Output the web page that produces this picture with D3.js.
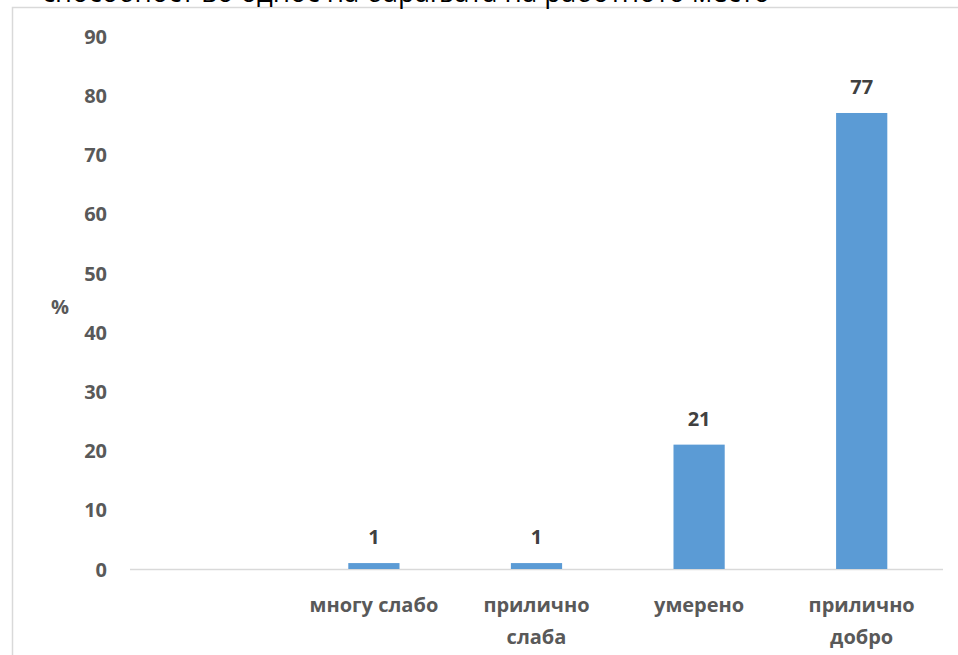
<!DOCTYPE html>
<html>
<head>
<meta charset="utf-8">
<script src="https://cdn.jsdelivr.net/npm/d3@7"></script>
<style>
  html, body { margin: 0; padding: 0; background: #ffffff; }
  svg { display: block; }
  text { font-family: "Open Sans", Lato, "DejaVu Sans", sans-serif; }
</style>
</head>
<body>
<script>
// Rating of work ability with respect to job demands (share of respondents, %)
const categories = ["", "многу слабо", "прилично слаба", "умерено", "прилично добро"];
const values = [null, 1, 1, 21, 77];
const yTicks = [0, 10, 20, 30, 40, 50, 60, 70, 80, 90];
const titleText = "способност во однос на барањата на работното место";
const yAxisTitle = "%";

// Category labels are wrapped onto two lines where needed
const labelLines = {
  "многу слабо": ["многу слабо"],
  "прилично слаба": ["прилично", "слаба"],
  "умерено": ["умерено"],
  "прилично добро": ["прилично", "добро"]
};

const W = 958, H = 655;
const plot = { left: 130, right: 943, top: 36, bottom: 569 };
const labelFont = 20;

const svg = d3.select("body").append("svg")
  .attr("width", W).attr("height", H);

// Chart frame (only its top and left edges fall inside the view)
svg.append("rect")
  .attr("x", 12.5).attr("y", 7.5)
  .attr("width", W + 20).attr("height", H + 20)
  .attr("fill", "#ffffff")
  .attr("stroke", "#d9d9d9").attr("stroke-width", 1.5);

// Title, mostly clipped above the top edge
svg.append("text")
  .attr("x", 42).attr("y", 2)
  .attr("font-size", 28)
  .attr("fill", "#000000")
  .attr("textLength", 728)
  .attr("lengthAdjust", "spacingAndGlyphs")
  .text(titleText);

const x = d3.scaleBand()
  .domain(categories)
  .range([plot.left, plot.right])
  .paddingInner(0.685)
  .paddingOuter(0.3425);

const y = d3.scaleLinear()
  .domain([0, 90])
  .range([plot.bottom, plot.top]);

// Y axis: labels only
const yAxis = d3.axisLeft(y).tickValues(yTicks).tickSize(0).tickPadding(0);
const gy = svg.append("g")
  .attr("transform", `translate(${107},0)`)
  .call(yAxis);
gy.select(".domain").remove();
gy.selectAll("text")
  .attr("font-size", labelFont)
  .attr("font-weight", "bold")
  .attr("fill", "#595959")
  .attr("font-family", "'Open Sans', Lato, sans-serif")
  .attr("dy", "0.36em");

// Y axis title
svg.append("text")
  .attr("x", 60).attr("y", 306)
  .attr("text-anchor", "middle")
  .attr("dominant-baseline", "central")
  .attr("font-size", labelFont)
  .attr("font-weight", "bold")
  .attr("fill", "#595959")
  .text(yAxisTitle);

// Baseline
svg.append("line")
  .attr("x1", plot.left).attr("x2", plot.right)
  .attr("y1", y(0) + 0.5).attr("y2", y(0) + 0.5)
  .attr("stroke", "#d9d9d9").attr("stroke-width", 1.5);

const data = categories.map((c, i) => ({ c, v: values[i] })).filter(d => d.v != null);

// Bars
svg.append("g").selectAll("rect")
  .data(data)
  .join("rect")
  .attr("x", d => x(d.c))
  .attr("width", x.bandwidth())
  .attr("y", d => y(d.v))
  .attr("height", d => y(0) - y(d.v))
  .attr("fill", "#5b9bd5");

// Value labels
svg.append("g").selectAll("text")
  .data(data)
  .join("text")
  .attr("x", d => x(d.c) + x.bandwidth() / 2)
  .attr("y", d => y(d.v) - 19)
  .attr("text-anchor", "middle")
  .attr("font-size", labelFont)
  .attr("font-weight", "bold")
  .attr("fill", "#404040")
  .text(d => d.v);

// Category labels
const cat = svg.append("g").selectAll("text")
  .data(categories.filter(c => c !== ""))
  .join("text")
  .attr("text-anchor", "middle")
  .attr("font-size", labelFont)
  .attr("font-weight", "bold")
  .attr("fill", "#595959");
cat.each(function (c) {
  const t = d3.select(this);
  const cx = x(c) + x.bandwidth() / 2;
  (labelLines[c] || [c]).forEach((line, i) => {
    t.append("tspan").attr("x", cx).attr("y", 612 + i * 32).text(line);
  });
});
</script>
</body>
</html>
